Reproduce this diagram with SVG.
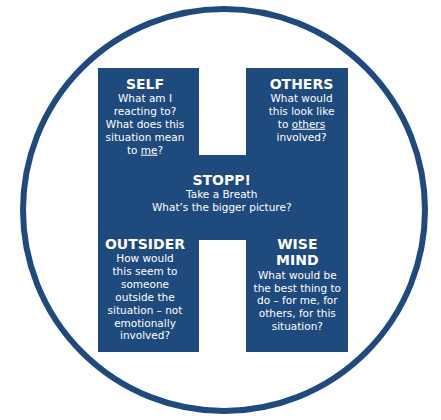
<svg xmlns="http://www.w3.org/2000/svg" width="441" height="420" viewBox="0 0 441 420">
<style>
.t{font-family:"DejaVu Sans",Verdana,sans-serif;fill:#ffffff;text-anchor:middle}
.h{font-size:14px;font-weight:bold}
.b{font-size:10.5px}
.u{text-decoration:underline}
</style>
<rect width="441" height="420" fill="#ffffff"/>
<circle cx="224" cy="210" r="201" fill="none" stroke="#1f4a7d" stroke-width="6"/>
<path d="M98,68 H199 V155 H246 V68 H348 V352 H246 V240 H199 V352 H98 Z" fill="#1f4a7d"/>
<g id="self">
<text class="t h" x="145" y="88.7">SELF</text>
<text class="t b" x="145" y="101.7">What am I</text>
<text class="t b" x="145" y="114.7">reacting to?</text>
<text class="t b" x="145" y="127.7">What does this</text>
<text class="t b" x="145" y="140.7">situation mean</text>
<text class="t b" x="145" y="153.7">to <tspan class="u">me</tspan>?</text>
</g>
<g id="others">
<text class="t h" x="301.5" y="88.7">OTHERS</text>
<text class="t b" x="301.5" y="101.7">What would</text>
<text class="t b" x="301.5" y="114.7">this look like</text>
<text class="t b" x="301.5" y="127.7">to <tspan class="u">others</tspan></text>
<text class="t b" x="301.5" y="140.7">involved?</text>
</g>
<g id="stopp">
<text class="t h" x="221.7" y="185">STOPP!</text>
<text class="t b" x="221.7" y="197.7">Take a Breath</text>
<text class="t b" x="221.7" y="210.7">What’s the bigger picture?</text>
</g>
<g id="outsider">
<text class="t h" x="145" y="249">OUTSIDER</text>
<text class="t b" x="145" y="261.7">How would</text>
<text class="t b" x="145" y="274.7">this seem to</text>
<text class="t b" x="145" y="287.7">someone</text>
<text class="t b" x="145" y="300.5">outside the</text>
<text class="t b" x="145" y="313.7">situation – not</text>
<text class="t b" x="145" y="326.7">emotionally</text>
<text class="t b" x="145" y="339.3">involved?</text>
</g>
<g id="wisemind">
<text class="t h" x="297.3" y="249">WISE</text>
<text class="t h" x="297.3" y="265">MIND</text>
<text class="t b" x="297.3" y="278.7">What would be</text>
<text class="t b" x="297.3" y="291.7">the best thing to</text>
<text class="t b" x="297.3" y="304.3">do – for me, for</text>
<text class="t b" x="297.3" y="317.3">others, for this</text>
<text class="t b" x="297.3" y="330.3">situation?</text>
</g>
<g id="connectors"></g>
</svg>
